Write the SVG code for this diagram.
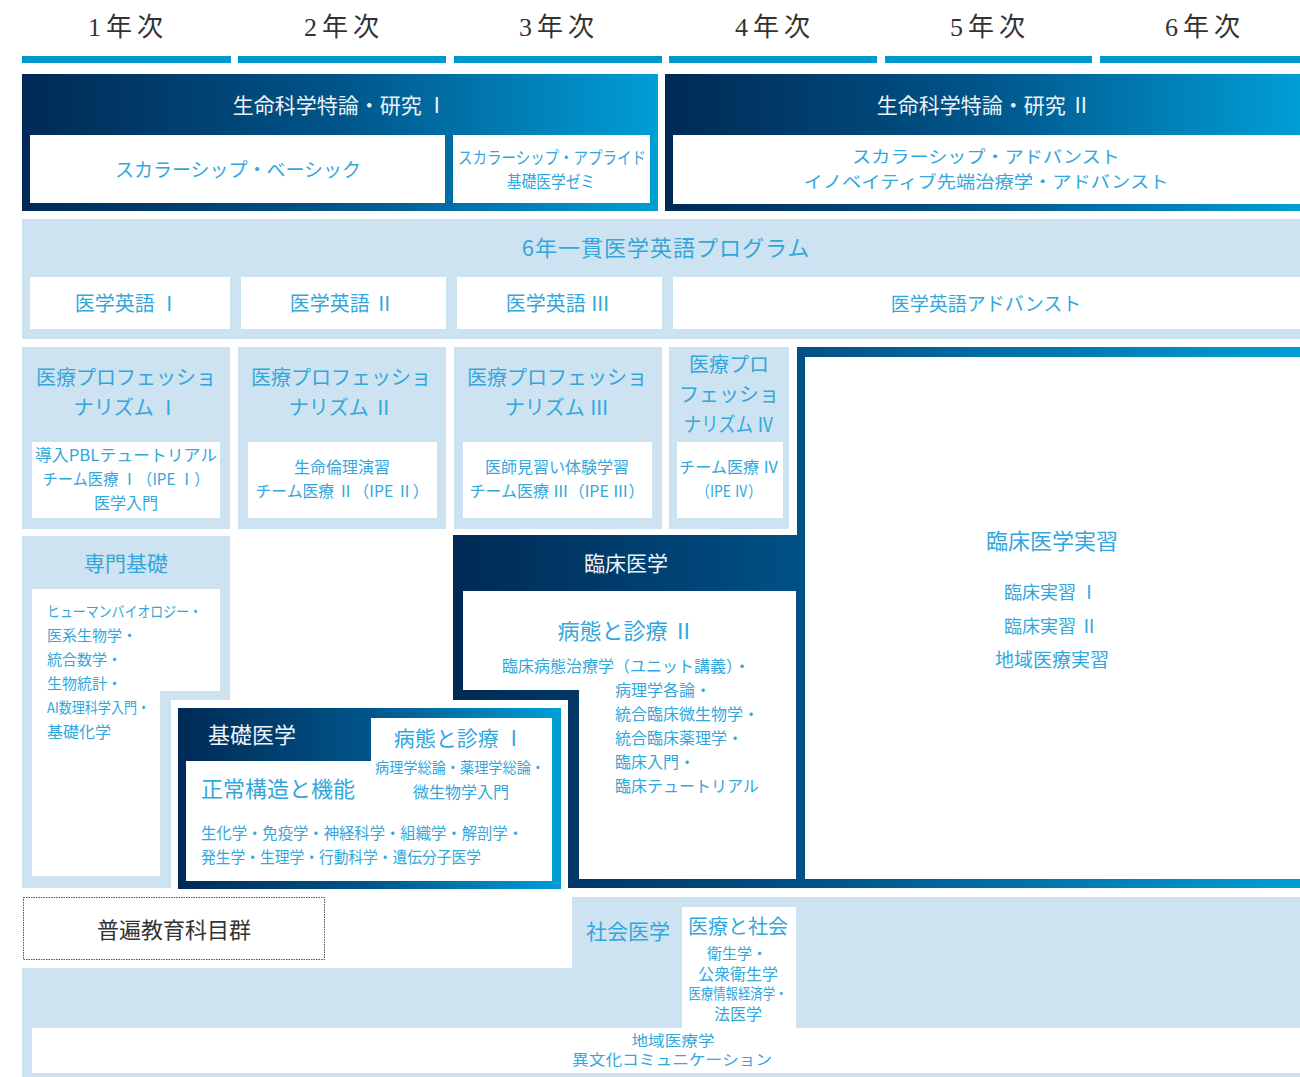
<svg xmlns="http://www.w3.org/2000/svg" width="1300" height="1077" viewBox="0 0 1300 1077">
<defs>
<linearGradient id="gA" gradientUnits="userSpaceOnUse" x1="22" y1="0" x2="658" y2="0"><stop offset="0" stop-color="#002a55"/><stop offset="0.5" stop-color="#00558a"/><stop offset="1" stop-color="#009ed6"/></linearGradient>
<linearGradient id="gB" gradientUnits="userSpaceOnUse" x1="665" y1="0" x2="1300" y2="0"><stop offset="0" stop-color="#002a55"/><stop offset="0.5" stop-color="#00558a"/><stop offset="1" stop-color="#009ed6"/></linearGradient>
<linearGradient id="gC" gradientUnits="userSpaceOnUse" x1="454" y1="0" x2="1300" y2="0"><stop offset="0" stop-color="#002a55"/><stop offset="0.45" stop-color="#00558a"/><stop offset="1" stop-color="#009ed6"/></linearGradient>
<linearGradient id="gD" gradientUnits="userSpaceOnUse" x1="178" y1="0" x2="561" y2="0"><stop offset="0" stop-color="#002a55"/><stop offset="0.5" stop-color="#00558a"/><stop offset="1" stop-color="#009ed6"/></linearGradient>
<style>
text{font-family:"Noto Sans CJK JP","Noto Sans",sans-serif;dominant-baseline:central;text-anchor:middle;transform:translateY(-1.5px)}
.yr{font-family:"Liberation Serif","Noto Sans CJK JP",serif;font-size:26px;fill:#333;letter-spacing:5px}
.w{fill:#eef3f8}
.b{fill:#33a7db}
.k{fill:#333}
.l{text-anchor:start}
.lb{fill:#cde3f2}
.wh{fill:#fff}
.bar{fill:#0099cc}
.s14{font-size:14px}.s15{font-size:15px}.s16{font-size:16px}.s17{font-size:17px}.s18{font-size:18px}.s19{font-size:19px}.s20{font-size:20px}.s21{font-size:21px}.s22{font-size:22px}
</style>
</defs>
<rect width="1300" height="1077" fill="#fff"/>

<g id="years">
<rect class="bar" x="22" y="56" width="209" height="7"/>
<rect class="bar" x="238" y="56" width="208" height="7"/>
<rect class="bar" x="454" y="56" width="208" height="7"/>
<rect class="bar" x="669" y="56" width="208" height="7"/>
<rect class="bar" x="885" y="56" width="207" height="7"/>
<rect class="bar" x="1100" y="56" width="200" height="7"/>
<text class="yr" x="128" y="29">1年次</text>
<text class="yr" x="344" y="29">2年次</text>
<text class="yr" x="559" y="29">3年次</text>
<text class="yr" x="775" y="29">4年次</text>
<text class="yr" x="990" y="29">5年次</text>
<text class="yr" x="1205" y="29">6年次</text>
</g>

<g id="research1">
<rect x="22" y="74" width="636" height="137" fill="url(#gA)"/>
<rect class="wh" x="30" y="135" width="415" height="68"/>
<rect class="wh" x="453" y="135" width="197" height="68"/>
<text class="w s21" x="340" y="105">生命科学特論・研究 Ⅰ</text>
<text class="b s19" x="238" y="170">スカラーシップ・ベーシック</text>
<text class="b s17" x="552" y="158" textLength="188" lengthAdjust="spacingAndGlyphs">スカラーシップ・アプライド</text>
<text class="b s17" x="551" y="182" textLength="88" lengthAdjust="spacingAndGlyphs">基礎医学ゼミ</text>
</g>

<g id="research2">
<rect x="665" y="74" width="635" height="137" fill="url(#gB)"/>
<rect class="wh" x="673" y="135" width="627" height="69"/>
<text class="w s21" x="984" y="105">生命科学特論・研究 Ⅱ</text>
<text class="b s17" x="986" y="157" textLength="268" lengthAdjust="spacingAndGlyphs">スカラーシップ・アドバンスト</text>
<text class="b s17" x="986" y="182" textLength="365" lengthAdjust="spacingAndGlyphs">イノベイティブ先端治療学・アドバンスト</text>
</g>

<g id="english">
<rect class="lb" x="22" y="219" width="1278" height="120"/>
<rect class="wh" x="30" y="277" width="200" height="52"/>
<rect class="wh" x="241" y="277" width="205" height="52"/>
<rect class="wh" x="457" y="277" width="205" height="52"/>
<rect class="wh" x="673" y="277" width="627" height="52"/>
<text class="b s22" x="666" y="247" letter-spacing="1">6年一貫医学英語プログラム</text>
<text class="b s20" x="127" y="304">医学英語 Ⅰ</text>
<text class="b s20" x="342" y="304">医学英語 Ⅱ</text>
<text class="b s20" x="558" y="304">医学英語 Ⅲ</text>
<text class="b s19" x="986" y="304">医学英語アドバンスト</text>
</g>

<g id="prof1">
<rect class="lb" x="22" y="347" width="208" height="182"/>
<rect class="wh" x="32" y="442" width="188" height="76"/>
<text class="b s20" x="126" y="378">医療プロフェッショ</text>
<text class="b s20" x="126" y="408">ナリズム Ⅰ</text>
<text class="b s16" x="126" y="455" textLength="182" lengthAdjust="spacingAndGlyphs">導入PBLテュートリアル</text>
<text class="b s16" x="126" y="479" textLength="167" lengthAdjust="spacingAndGlyphs">チーム医療 Ⅰ（IPE Ⅰ）</text>
<text class="b s16" x="126" y="503">医学入門</text>
</g>

<g id="prof2">
<rect class="lb" x="238" y="347" width="208" height="182"/>
<rect class="wh" x="248" y="442" width="189" height="76"/>
<text class="b s20" x="341" y="378">医療プロフェッショ</text>
<text class="b s20" x="341" y="408">ナリズム Ⅱ</text>
<text class="b s16" x="342" y="467">生命倫理演習</text>
<text class="b s16" x="342" y="491" textLength="173" lengthAdjust="spacingAndGlyphs">チーム医療 Ⅱ（IPE Ⅱ）</text>
</g>

<g id="prof3">
<rect class="lb" x="454" y="347" width="208" height="182"/>
<rect class="wh" x="463" y="442" width="189" height="76"/>
<text class="b s20" x="557" y="378">医療プロフェッショ</text>
<text class="b s20" x="557" y="408">ナリズム Ⅲ</text>
<text class="b s16" x="557" y="467">医師見習い体験学習</text>
<text class="b s16" x="557" y="491" textLength="175" lengthAdjust="spacingAndGlyphs">チーム医療 Ⅲ（IPE Ⅲ）</text>
</g>

<g id="prof4">
<rect class="lb" x="669" y="347" width="120" height="182"/>
<rect class="wh" x="677" y="442" width="106" height="76"/>
<text class="b s20" x="729" y="365">医療プロ</text>
<text class="b s20" x="729" y="395">フェッショ</text>
<text class="b s20" x="729" y="425" textLength="90" lengthAdjust="spacingAndGlyphs">ナリズム Ⅳ</text>
<text class="b s16" x="729" y="467" textLength="100" lengthAdjust="spacingAndGlyphs">チーム医療 Ⅳ</text>
<text class="b s16" x="729" y="491" textLength="66" lengthAdjust="spacingAndGlyphs">（IPE Ⅳ）</text>
</g>

<g id="clinical">
<path d="M797,347 H1300 V888 H568 V700 H453 V535 H797 Z" fill="url(#gC)"/>
<rect class="wh" x="805" y="357" width="495" height="522"/>
<path class="wh" d="M463,591 H796 V879 H579 V690 H463 Z"/>
<text class="w s21" x="626" y="563">臨床医学</text>
<text class="b s22" x="626" y="630">病態と診療 Ⅱ</text>
<text class="b s16" x="626" y="666">臨床病態治療学（ユニット講義）・</text>
<text class="b s16 l" x="615" y="690">病理学各論・</text>
<text class="b s16 l" x="615" y="714">統合臨床微生物学・</text>
<text class="b s16 l" x="615" y="738">統合臨床薬理学・</text>
<text class="b s16 l" x="615" y="762">臨床入門・</text>
<text class="b s16 l" x="615" y="786">臨床テュートリアル</text>
</g>

<g id="clerkship">
<text class="b s22" x="1052" y="540">臨床医学実習</text>
<text class="b s18" x="1051" y="592">臨床実習 Ⅰ</text>
<text class="b s18" x="1051" y="626">臨床実習 Ⅱ</text>
<text class="b s19" x="1052" y="660">地域医療実習</text>
</g>

<g id="specialized">
<path class="lb" d="M22,536 H230 V700 H171 V888 H22 Z"/>
<path class="wh" d="M32,589 H220 V691 H160 V876 H32 Z"/>
<text class="b s21" x="126" y="563">専門基礎</text>
<text class="b s15 l" x="47" y="612" textLength="155" lengthAdjust="spacingAndGlyphs">ヒューマンバイオロジー・</text>
<text class="b s15 l" x="47" y="636">医系生物学・</text>
<text class="b s15 l" x="47" y="660">統合数学・</text>
<text class="b s15 l" x="47" y="684">生物統計・</text>
<text class="b s15 l" x="47" y="708" textLength="103" lengthAdjust="spacingAndGlyphs">AI数理科学入門・</text>
<text class="b s16 l" x="47" y="732">基礎化学</text>
</g>

<g id="basic">
<rect x="178" y="708" width="383" height="181" fill="url(#gD)"/>
<path class="wh" d="M371,718 H552 V881 H186 V761 H371 Z"/>
<text class="w s22 l" x="208" y="734">基礎医学</text>
<text class="b s21" x="459" y="738">病態と診療 Ⅰ</text>
<text class="b s15" x="460" y="768" textLength="170" lengthAdjust="spacingAndGlyphs">病理学総論・薬理学総論・</text>
<text class="b s16" x="461" y="792">微生物学入門</text>
<text class="b s22 l" x="201" y="788">正常構造と機能</text>
<text class="b s16 l" x="201" y="833" textLength="322" lengthAdjust="spacingAndGlyphs">生化学・免疫学・神経科学・組織学・解剖学・</text>
<text class="b s16 l" x="201" y="857" textLength="280" lengthAdjust="spacingAndGlyphs">発生学・生理学・行動科学・遺伝分子医学</text>
</g>

<g id="general">
<rect x="23.5" y="897.5" width="301" height="62" fill="#fff" stroke="#555" stroke-width="1" stroke-dasharray="1.5,1"/>
<text class="k s22" x="174" y="929">普遍教育科目群</text>
</g>

<g id="social">
<path class="lb" d="M572,897 H1300 V1077 H22 V968 H572 Z"/>
<rect class="wh" x="682" y="907" width="114" height="121"/>
<rect class="wh" x="32" y="1028" width="1268" height="45"/>
<text class="b s21" x="628" y="931">社会医学</text>
<text class="b s20" x="738" y="927">医療と社会</text>
<text class="b s15" x="737" y="954">衛生学・</text>
<text class="b s16" x="738" y="974">公衆衛生学</text>
<text class="b s15" x="738" y="994" textLength="99" lengthAdjust="spacingAndGlyphs">医療情報経済学・</text>
<text class="b s16" x="738" y="1014">法医学</text>
<text class="b s15" x="673" y="1041" textLength="83" lengthAdjust="spacingAndGlyphs">地域医療学</text>
<text class="b s15" x="672" y="1060" textLength="200" lengthAdjust="spacingAndGlyphs">異文化コミュニケーション</text>
</g>

<g id="connectors"/>
</svg>
